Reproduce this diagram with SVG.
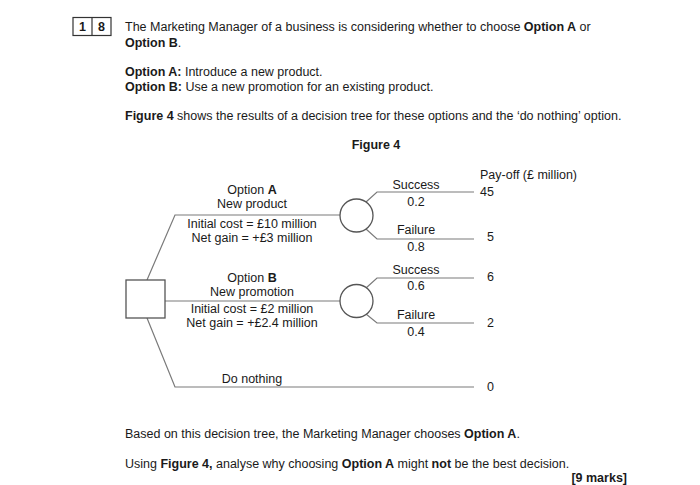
<svg xmlns="http://www.w3.org/2000/svg" width="700" height="485" viewBox="0 0 700 485">
<style>
text{font-family:"Liberation Sans",Arial,sans-serif;font-size:12.5px;fill:#1a1a1a}
.b{font-weight:bold}
.m{text-anchor:middle}
.ln{stroke:#7a7a7a;stroke-width:1.2;fill:none}
.nd{stroke:#555;stroke-width:1.3;fill:#fff}
</style>
<rect width="700" height="485" fill="#fff"/>
<g id="question-number">
<rect x="73" y="17.5" width="38" height="18" fill="none" stroke="#333" stroke-width="1.2"/>
<line x1="92" y1="17.5" x2="92" y2="35.5" stroke="#333" stroke-width="1.2"/>
<text x="82.5" y="31" class="b m">1</text>
<text x="101.5" y="31" class="b m">8</text>
</g>
<g id="intro">
<text x="125" y="31">The Marketing Manager of a business is considering whether to choose <tspan class="b">Option A</tspan> or</text>
<text x="125" y="47"><tspan class="b">Option B</tspan>.</text>
<text x="125" y="76"><tspan class="b">Option A:</tspan> Introduce a new product.</text>
<text x="125" y="91"><tspan class="b">Option B:</tspan> Use a new promotion for an existing product.</text>
<text x="125" y="120"><tspan class="b">Figure 4</tspan> shows the results of a decision tree for these options and the ‘do nothing’ option.</text>
<text x="376" y="149" class="b m">Figure 4</text>
</g>
<g id="connectors">
<polyline class="ln" points="147,280 175,215 340,215"/>
<line class="ln" x1="165" y1="301" x2="340" y2="301"/>
<polyline class="ln" points="147,318 175,387 474,387"/>
<polyline class="ln" points="366,202 377,192 474,192"/>
<polyline class="ln" points="366,229 377,239 474,239"/>
<polyline class="ln" points="366,288 377,278 474,278"/>
<polyline class="ln" points="366,314 377,323 474,323"/>
</g>
<g id="decision-node">
<rect class="nd" x="126" y="280" width="39" height="38"/>
</g>
<g id="chance-node-a">
<circle class="nd" cx="356.5" cy="215.5" r="16.5"/>
</g>
<g id="chance-node-b">
<circle class="nd" cx="356.5" cy="301" r="16.5"/>
</g>
<g id="option-a-labels">
<text x="252" y="194" class="m">Option <tspan class="b">A</tspan></text>
<text x="252" y="208" class="m">New product</text>
<text x="252" y="228" class="m">Initial cost = £10 million</text>
<text x="252" y="242" class="m">Net gain = +£3 million</text>
</g>
<g id="option-b-labels">
<text x="252" y="282" class="m">Option <tspan class="b">B</tspan></text>
<text x="252" y="296" class="m">New promotion</text>
<text x="252" y="313" class="m">Initial cost = £2 million</text>
<text x="252" y="327" class="m">Net gain = +£2.4 million</text>
</g>
<g id="do-nothing-label">
<text x="252" y="383" class="m">Do nothing</text>
</g>
<g id="branch-labels">
<text x="416" y="189" class="m">Success</text>
<text x="416" y="206" class="m">0.2</text>
<text x="416" y="234" class="m">Failure</text>
<text x="416" y="251" class="m">0.8</text>
<text x="416" y="274" class="m">Success</text>
<text x="416" y="290" class="m">0.6</text>
<text x="416" y="319" class="m">Failure</text>
<text x="416" y="336" class="m">0.4</text>
</g>
<g id="payoffs">
<text x="480" y="179">Pay-off (£ million)</text>
<text x="480" y="196">45</text>
<text x="487" y="241">5</text>
<text x="487" y="281">6</text>
<text x="487" y="327">2</text>
<text x="487" y="391">0</text>
</g>
<g id="question">
<text x="125" y="438">Based on this decision tree, the Marketing Manager chooses <tspan class="b">Option A</tspan>.</text>
<text x="125" y="468">Using <tspan class="b">Figure 4,</tspan> analyse why choosing <tspan class="b">Option A</tspan> might <tspan class="b">not</tspan> be the best decision.</text>
<text x="627" y="482" class="b" text-anchor="end">[9 marks]</text>
</g>
</svg>
